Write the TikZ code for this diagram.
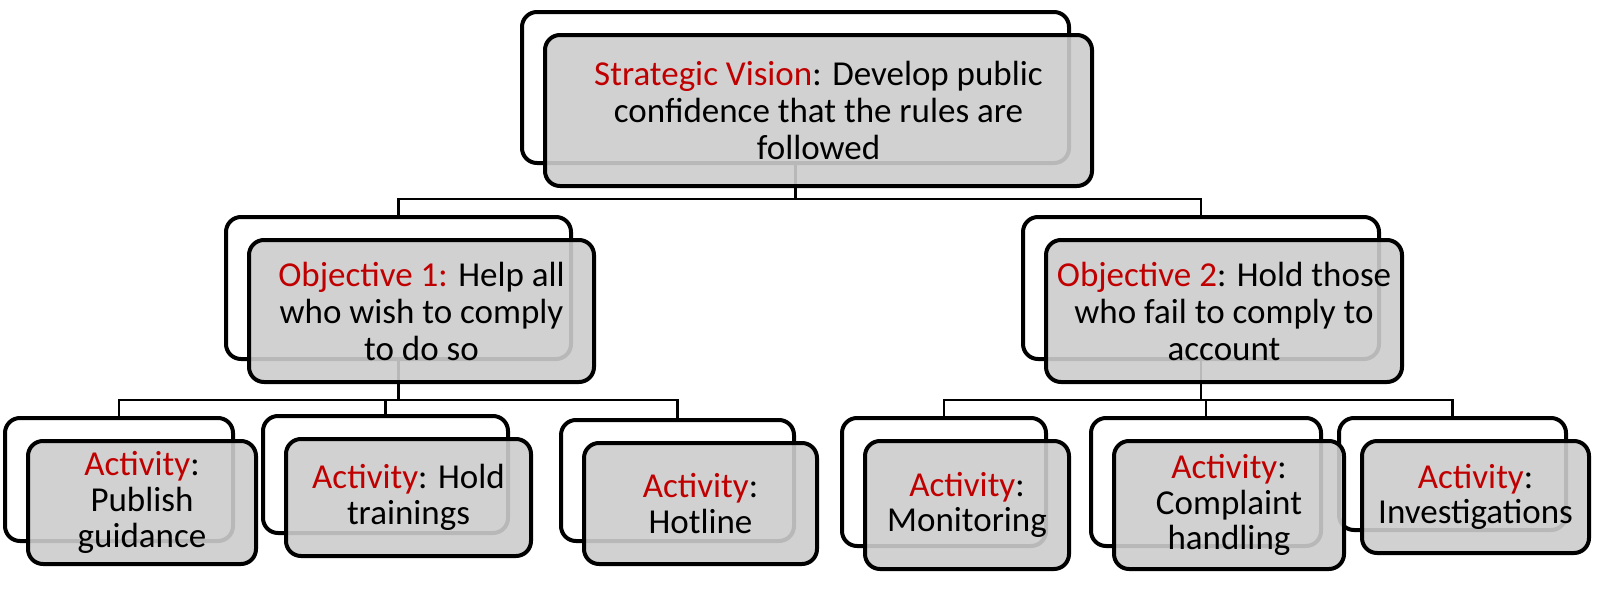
\documentclass[tikz,border=0pt]{standalone}
\usepackage{fontspec}
\setmainfont{Carlito}
\definecolor{sred}{HTML}{C00000}
\definecolor{boxfill}{gray}{0.80}
\tikzset{
  backbox/.style={draw=black, line width=2pt, rounded corners=7.5pt, fill=white, inner sep=0pt},
  frontbox/.style={draw=black, line width=2pt, rounded corners=7.5pt, fill=boxfill, fill opacity=0.9, text opacity=1, draw opacity=1, inner sep=0pt, align=center, font=\fontsize{17.5}{18.5}\selectfont},
  actbox/.style={frontbox, font=\fontsize{17.5}{17.8}\selectfont},
  conn/.style={draw=black, line width=1.4pt},
}
\newcommand{\rd}[1]{\textcolor{sred}{#1}}
\begin{document}
\begin{tikzpicture}[x=0.5pt, y=-0.5pt]
\useasboundingbox (0,0) rectangle (1600,589);
% back boxes
\node[backbox, minimum width=273.5pt, minimum height=75.5pt] (b0) at (795.5,87.5) {};
\node[backbox, minimum width=172.5pt, minimum height=71pt] (b1) at (398.5,288) {};
\node[backbox, minimum width=178pt, minimum height=71pt] (b2) at (1201,288) {};
\node[backbox, minimum width=114pt, minimum height=61.5pt] (a1) at (119,479.5) {};
\node[backbox, minimum width=122.5pt, minimum height=58.5pt] (a2) at (385.5,474.5) {};
\node[backbox, minimum width=116.5pt, minimum height=60.5pt] (a3) at (677.5,480.5) {};
\node[backbox, minimum width=102pt, minimum height=64pt] (a4) at (944,482) {};
\node[backbox, minimum width=115pt, minimum height=64pt] (a5) at (1206,482) {};
\node[backbox, minimum width=113.5pt, minimum height=56pt] (a6) at (1452.5,474) {};
% connectors
\coordinate (j0) at (795.5,199);
\coordinate (j1) at (398.5,400);
\coordinate (j2) at (1201,400);
\draw[conn] (b0.south) -- (j0) -| (b1.north);
\draw[conn] (j0) -| (b2.north);
\draw[conn] (b1.south) -- (j1) -| (a1.north);
\draw[conn] (j1) -| (a2.north);
\draw[conn] (j1) -| (a3.north);
\draw[conn] (b2.south) -- (j2) -| (a4.north);
\draw[conn] (j2) -| (a5.north);
\draw[conn] (j2) -| (a6.north);
% front boxes
\node[frontbox, minimum width=273.5pt, minimum height=75.5pt] (f0) at (818.5,110.5) {\rd{Strategic Vision}: Develop public\\confidence that the rules are\\followed};
\node[frontbox, minimum width=172.5pt, minimum height=71pt] (g1) at (421.5,311) {\rd{Objective 1:} Help all\\who wish to comply\\to do so};
\node[frontbox, minimum width=178pt, minimum height=71pt] (g2) at (1224,311) {\rd{Objective 2}: Hold those\\who fail to comply to\\account};
\node[actbox, minimum width=114pt, minimum height=61.5pt] (h1) at (142,502.5) {\rd{Activity}:\\Publish\\guidance};
\node[actbox, minimum width=122.5pt, minimum height=58.5pt] (h2) at (408.5,497.5) {\rd{Activity}: Hold\\trainings};
\node[actbox, minimum width=116.5pt, minimum height=60.5pt] (h3) at (700.5,503.5) {\rd{Activity}:\\Hotline};
\node[actbox, minimum width=102pt, minimum height=64pt] (h4) at (967,505) {\rd{Activity}:\\Monitoring};
\node[actbox, minimum width=115pt, minimum height=64pt] (h5) at (1229,505) {\rd{Activity}:\\Complaint\\handling};
\node[actbox, minimum width=113.5pt, minimum height=56pt] (h6) at (1475.5,497) {\rd{Activity}:\\Investigations};
\end{tikzpicture}
\end{document}
